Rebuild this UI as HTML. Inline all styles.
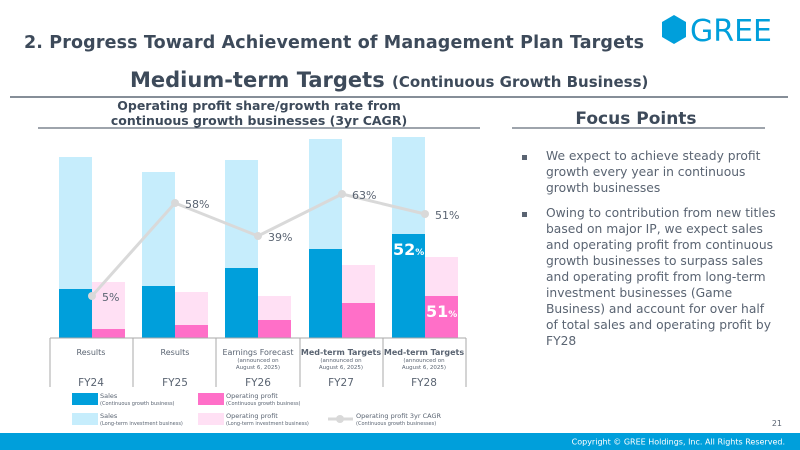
<!DOCTYPE html>
<html><head><meta charset="utf-8"><style>
body{margin:0;width:800px;height:450px;overflow:hidden;background:#fff;font-family:"Liberation Sans","DejaVu Sans",sans-serif}
svg text{font-family:"DejaVu Sans","Liberation Sans",sans-serif}
.fp{position:absolute;left:546px;width:232px;font-family:"DejaVu Sans","Liberation Sans",sans-serif;font-size:12.3px;line-height:16px;color:#5a6472}
.b{position:absolute;left:522px;width:5px;height:5px;background:#5a6472}
</style></head><body>
<svg width="800" height="450" style="position:absolute;left:0;top:0">
<text x="24" y="48" font-size="17.5" font-weight="bold" fill="#3d4a5a" font-family="DejaVu Sans Condensed, DejaVu Sans, sans-serif" textLength="620">2. Progress Toward Achievement of Management Plan Targets</text>
<polygon points="674,15 686,22 686,37 674,44 662,37 662,22" fill="#009fdb"/>
<text x="690" y="41" font-size="30" fill="#009fdb" font-family="Liberation Sans, sans-serif">GREE</text>
<text x="130" y="87" font-size="21" font-weight="bold" fill="#3d4a5a" font-family="DejaVu Sans Condensed, DejaVu Sans, sans-serif">Medium-term Targets <tspan font-size="15">(Continuous Growth Business)</tspan></text>
<line x1="10" y1="97" x2="788" y2="97" stroke="#3d4a5a" stroke-width="1.2"/>
<text x="259" y="110" font-size="12.5" font-weight="bold" fill="#3d4a5a" text-anchor="middle" font-family="DejaVu Sans Condensed, DejaVu Sans, sans-serif">Operating profit share/growth rate from</text>
<text x="259" y="125" font-size="12.5" font-weight="bold" fill="#3d4a5a" text-anchor="middle" font-family="DejaVu Sans Condensed, DejaVu Sans, sans-serif">continuous growth businesses (3yr CAGR)</text>
<line x1="38" y1="128" x2="480" y2="128" stroke="#3d4a5a"/>
<text x="636" y="124" font-size="17" font-weight="bold" fill="#3d4a5a" text-anchor="middle" font-family="DejaVu Sans Condensed, DejaVu Sans, sans-serif">Focus Points</text>
<line x1="512" y1="128" x2="765" y2="128" stroke="#3d4a5a"/>
<g>
<rect x="59" y="157" width="33" height="181" fill="#c6edfc"/><rect x="59" y="289" width="33" height="49" fill="#009fdb"/>
<rect x="92" y="282" width="33" height="56" fill="#ffe0f4"/><rect x="92" y="329" width="33" height="9" fill="#ff6fc8"/>
<rect x="142" y="172" width="33" height="166" fill="#c6edfc"/><rect x="142" y="286" width="33" height="52" fill="#009fdb"/>
<rect x="175" y="292" width="33" height="46" fill="#ffe0f4"/><rect x="175" y="325" width="33" height="13" fill="#ff6fc8"/>
<rect x="225" y="160" width="33" height="178" fill="#c6edfc"/><rect x="225" y="268" width="33" height="70" fill="#009fdb"/>
<rect x="258" y="296" width="33" height="42" fill="#ffe0f4"/><rect x="258" y="320" width="33" height="18" fill="#ff6fc8"/>
<rect x="309" y="139" width="33" height="199" fill="#c6edfc"/><rect x="309" y="249" width="33" height="89" fill="#009fdb"/>
<rect x="342" y="265" width="33" height="73" fill="#ffe0f4"/><rect x="342" y="303" width="33" height="35" fill="#ff6fc8"/>
<rect x="392" y="137" width="33" height="201" fill="#c6edfc"/><rect x="392" y="234" width="33" height="104" fill="#009fdb"/>
<rect x="425" y="257" width="33" height="81" fill="#ffe0f4"/><rect x="425" y="296" width="33" height="42" fill="#ff6fc8"/>
</g>
<polyline points="92,296 175,203 258,236 342,194 425,214" fill="none" stroke="#d9d9d9" stroke-width="3"/>
<g fill="#d9d9d9"><circle cx="92" cy="296" r="4"/><circle cx="175" cy="203" r="4"/><circle cx="258" cy="236" r="4"/><circle cx="342" cy="194" r="4"/><circle cx="425" cy="214" r="4"/></g>
<g font-size="11" fill="#5a6472">
<text x="102" y="301">5%</text><text x="185" y="208">58%</text><text x="268" y="241">39%</text><text x="352" y="199">63%</text><text x="435" y="219">51%</text>
</g>
<text x="393" y="255" font-size="16" font-weight="bold" fill="#fff">52<tspan font-size="9">%</tspan></text>
<text x="426" y="317" font-size="16" font-weight="bold" fill="#fff">51<tspan font-size="9">%</tspan></text>
<g stroke="#aaa" stroke-width="1">
<line x1="50" y1="338" x2="466" y2="338"/>
<line x1="50" y1="338" x2="50" y2="387"/><line x1="133" y1="338" x2="133" y2="387"/><line x1="216" y1="338" x2="216" y2="387"/><line x1="300" y1="338" x2="300" y2="387"/><line x1="383" y1="338" x2="383" y2="387"/><line x1="466" y1="338" x2="466" y2="387"/>
</g>
<g fill="#5a6472" text-anchor="middle">
<text x="91" y="355" font-size="8">Results</text>
<text x="175" y="355" font-size="8">Results</text>
<text x="258" y="355" font-size="8">Earnings Forecast</text>
<text x="341" y="355" font-size="8" font-weight="bold">Med-term Targets</text>
<text x="424" y="355" font-size="8" font-weight="bold">Med-term Targets</text>
<g font-size="5.5"><text x="258" y="362">(announced on</text><text x="258" y="369">August 6, 2025)</text>
<text x="341" y="362">(announced on</text><text x="341" y="369">August 6, 2025)</text>
<text x="424" y="362">(announced on</text><text x="424" y="369">August 6, 2025)</text></g>
<g font-size="10.5"><text x="91" y="386">FY24</text><text x="175" y="386">FY25</text><text x="258" y="386">FY26</text><text x="341" y="386">FY27</text><text x="424" y="386">FY28</text></g>
</g>
<rect x="72" y="393" width="26" height="12" fill="#009fdb"/>
<rect x="198" y="393" width="26" height="12" fill="#ff6fc8"/>
<rect x="72" y="413" width="26" height="12" fill="#c6edfc"/>
<rect x="198" y="413" width="26" height="12" fill="#ffe0f4"/>
<line x1="328" y1="419" x2="353" y2="419" stroke="#d9d9d9" stroke-width="3"/><circle cx="340" cy="419" r="4" fill="#d9d9d9"/>
<g fill="#5a6472">
<text x="100" y="398" font-size="6.5">Sales</text><text x="100" y="405" font-size="5">(Continuous growth business)</text>
<text x="226" y="398" font-size="6.5">Operating profit</text><text x="226" y="405" font-size="5">(Continuous growth business)</text>
<text x="100" y="418" font-size="6.5">Sales</text><text x="100" y="425" font-size="5">(Long-term investment business)</text>
<text x="226" y="418" font-size="6.5">Operating profit</text><text x="226" y="425" font-size="5">(Long-term investment business)</text>
<text x="356" y="418" font-size="6.5">Operating profit 3yr CAGR</text><text x="356" y="425" font-size="5">(Continuous growth businesses)</text>
</g>
<text x="782" y="426" font-size="8" fill="#5a6472" text-anchor="end">21</text>
<rect x="0" y="433" width="800" height="17" fill="#009fdb"/>
<text x="785" y="444.5" font-size="8" fill="#fff" text-anchor="end">Copyright © GREE Holdings, Inc. All Rights Reserved.</text>
</svg>
<div class="b" style="top:155px"></div>
<div class="fp" style="top:148px">We expect to achieve steady profit growth every year in continuous growth businesses</div>
<div class="b" style="top:212px"></div>
<div class="fp" style="top:205px">Owing to contribution from new titles based on major IP, we expect sales and operating profit from continuous growth businesses to surpass sales and operating profit from long-term investment businesses (Game Business) and account for over half of total sales and operating profit by FY28</div>
</body></html>
